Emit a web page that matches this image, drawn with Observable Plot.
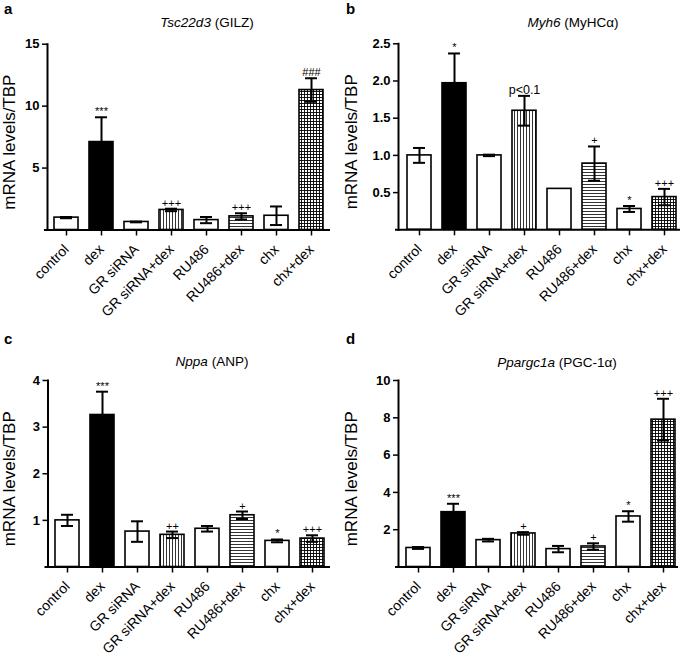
<!DOCTYPE html>
<html>
<head>
<meta charset="utf-8">
<script src="https://cdn.jsdelivr.net/npm/d3@7"></script>
<script src="https://cdn.jsdelivr.net/npm/@observablehq/plot@0.6"></script>
<style>
  html, body { margin: 0; padding: 0; background: white; }
  #root { position: relative; width: 685px; height: 659px; font-family: "Liberation Sans", Arial, sans-serif; }
  .panel { position: absolute; }
  .letter { position: absolute; font-weight: bold; font-size: 15px; line-height: 1; }
  .title { position: absolute; font-size: 13.5px; line-height: 1; transform: translate(-50%, -50%); white-space: nowrap; }
</style>
</head>
<body>
<svg width="0" height="0" style="position:absolute">
  <defs>
    <pattern id="vstripe" width="3" height="3" patternUnits="userSpaceOnUse">
      <rect width="3" height="3" fill="white"/>
      <path d="M1.5 0V3" stroke="black" stroke-width="0.8"/>
    </pattern>
    <pattern id="hstripe" width="3" height="3" patternUnits="userSpaceOnUse">
      <rect width="3" height="3" fill="white"/>
      <path d="M0 1.5H3" stroke="black" stroke-width="0.8"/>
    </pattern>
    <pattern id="grid" width="3" height="3" patternUnits="userSpaceOnUse">
      <rect width="3" height="3" fill="white"/>
      <path d="M1.5 0V3M0 1.5H3" stroke="black" stroke-width="0.9"/>
    </pattern>
  </defs>
</svg>
<div id="root"></div>
<script>
// ---- data ----
const categories = ["control", "dex", "GR siRNA", "GR siRNA+dex", "RU486", "RU486+dex", "chx", "chx+dex"];

const gilzMean = [1.0, 7.1, 0.65, 1.62, 0.8, 1.1, 1.15, 11.3];
const gilzErr  = [0.05, 2.0, 0.03, 0.1, 0.25, 0.25, 0.75, 0.95];
const gilzSig  = ["", "***", "", "+++", "", "+++", "", "###"];

const myh6Mean = [1.0, 1.97, 1.0, 1.6, 0.55, 0.89, 0.28, 0.44];
const myh6Err  = [0.1, 0.4, 0.01, 0.2, 0, 0.23, 0.04, 0.11];
const myh6Sig  = ["", "*", "", "p<0.1", "", "+", "*", "+++"];

const nppaMean = [1.0, 3.26, 0.76, 0.69, 0.82, 1.11, 0.56, 0.61];
const nppaErr  = [0.12, 0.5, 0.22, 0.07, 0.06, 0.08, 0.03, 0.07];
const nppaSig  = ["", "***", "", "++", "", "+", "*", "+++"];

const ppargMean = [1.02, 2.94, 1.44, 1.8, 0.96, 1.1, 2.71, 7.9];
const ppargErr  = [0.05, 0.45, 0.07, 0.07, 0.17, 0.17, 0.28, 1.12];
const ppargSig  = ["", "***", "", "+", "", "+", "*", "+++"];

const yTicksA = [5, 10, 15];
const yTicksB = [0.5, 1.0, 1.5, 2.0, 2.5];
const yTicksC = [1, 2, 3, 4];
const yTicksD = [2, 4, 6, 8, 10];

// ---- style ----
const FONT = "'Liberation Sans', Arial, sans-serif";
const fillFor = {
  "control": "white", "dex": "black", "GR siRNA": "white", "GR siRNA+dex": "url(#vstripe)",
  "RU486": "white", "RU486+dex": "url(#hstripe)", "chx": "white", "chx+dex": "url(#grid)"
};

const panels = [
  {letter: "a", gene: "Tsc22d3", prot: "(GILZ)", mean: gilzMean, err: gilzErr, sig: gilzSig,
   domain: [0, 15], ticks: yTicksA, fmt: d3.format("d"),
   left: 0, top: 0, w: 342, h: 330, mL: 47, mR: 12, mT: 43.7, mB: 100.5, xr: [42.3, 335.5],
   titleX: 207, titleY: 23},
  {letter: "b", gene: "Myh6", prot: "(MyHCα)", mean: myh6Mean, err: myh6Err, sig: myh6Sig,
   domain: [0, 2.5], ticks: yTicksB, fmt: d3.format(".1f"),
   left: 342, top: 0, w: 343, h: 330, mL: 56, mR: 5, mT: 43.3, mB: 100.7, xr: [52.9, 345.2],
   titleX: 573, titleY: 23},
  {letter: "c", gene: "Nppa", prot: "(ANP)", mean: nppaMean, err: nppaErr, sig: nppaSig,
   domain: [0, 4], ticks: yTicksC, fmt: d3.format("d"),
   left: 0, top: 330, w: 342, h: 329, mL: 47.5, mR: 12, mT: 50, mB: 92.5, xr: [42.3, 336.5],
   titleX: 212, titleY: 362},
  {letter: "d", gene: "Ppargc1a", prot: "(PGC-1α)", mean: ppargMean, err: ppargErr, sig: ppargSig,
   domain: [0, 10], ticks: yTicksD, fmt: d3.format("d"),
   left: 342, top: 330, w: 343, h: 329, mL: 56, mR: 7, mT: 50, mB: 92.5, xr: [52.8, 344.6],
   titleX: 557, titleY: 363}
];

const root = document.getElementById("root");

for (const p of panels) {
  const data = categories.map((c, i) => ({cat: c, v: p.mean[i], e: p.err[i], s: p.sig[i]}));
  const withErr = data.filter(d => d.e > 0);
  const plot = Plot.plot({
    width: p.w, height: p.h,
    marginLeft: p.mL, marginRight: p.mR, marginTop: p.mT, marginBottom: p.mB,
    style: {fontFamily: FONT, fontSize: "14px", color: "black", background: "transparent", overflow: "visible"},
    x: {domain: categories, range: p.xr, padding: 0.32, label: null},
    y: {domain: p.domain, label: null},
    color: {type: "identity"},
    marks: [
      Plot.barY(data, {x: "cat", y: "v", fill: d => fillFor[d.cat], stroke: "black", strokeWidth: 1.6}),
      Plot.ruleX(withErr, {x: "cat", y1: d => d.v - d.e, y2: d => d.v + d.e, stroke: "black", strokeWidth: 2}),
      Plot.tickY(withErr, {x: "cat", y: d => d.v + d.e, stroke: "black", strokeWidth: 2, inset: 6}),
      Plot.tickY(withErr, {x: "cat", y: d => d.v - d.e, stroke: "black", strokeWidth: 2, inset: 6}),
      Plot.text(data.filter(d => d.s), {x: "cat", y: d => d.v + d.e, text: "s", lineAnchor: "bottom", dy: -2,
        fontSize: d => d.s.startsWith("p") ? 12.5 : 11, fill: "black"}),
      Plot.axisY({ticks: p.ticks, tickFormat: p.fmt, tickSize: 5, tickPadding: 3, fontWeight: "bold",
        fontSize: 13, strokeWidth: 1.5, label: null}),
      Plot.axisX({tickRotate: -45, tickSize: 6, tickPadding: 11, fontSize: 14, strokeWidth: 1.5, label: null}),
      Plot.frame({anchor: "left", strokeWidth: 2}),
      Plot.ruleY([0], {strokeWidth: 2, insetLeft: -3}),
      Plot.text(["mRNA levels/TBP"], {frameAnchor: "left", rotate: -90, textAnchor: "middle",
        dx: -(p.mL - 9), dy: 5, fontSize: 17, fill: "black"})
    ]
  });
  const div = document.createElement("div");
  div.className = "panel";
  div.style.left = p.left + "px";
  div.style.top = p.top + "px";
  div.appendChild(plot);
  root.appendChild(div);

  const letter = document.createElement("div");
  letter.className = "letter";
  letter.style.left = (p.left + 4) + "px";
  letter.style.top = (p.top + 1) + "px";
  letter.textContent = p.letter;
  root.appendChild(letter);

  const title = document.createElement("div");
  title.className = "title";
  title.style.left = p.titleX + "px";
  title.style.top = p.titleY + "px";
  const it = document.createElement("i");
  it.textContent = p.gene;
  title.appendChild(it);
  title.appendChild(document.createTextNode(" " + p.prot));
  root.appendChild(title);
}
</script>
</body>
</html>
